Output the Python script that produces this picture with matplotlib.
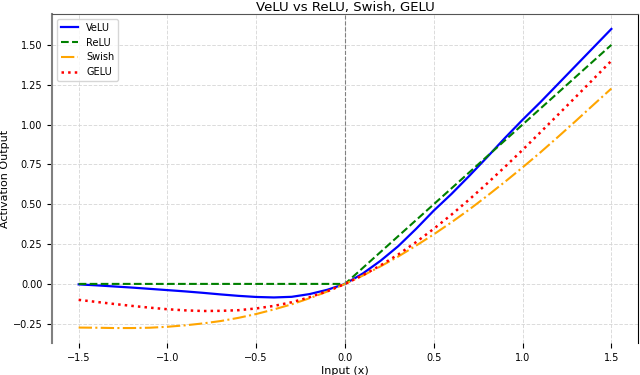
import matplotlib
matplotlib.use('Agg')
import matplotlib.pyplot as plt

# values
x_vals = [-1.5, -1.4, -1.3, -1.2, -1.1, -1.0, -0.9, -0.8, -0.7, -0.6, -0.5,
          -0.4, -0.3, -0.2, -0.1, 0.0, 0.1, 0.2, 0.3, 0.4, 0.5,
          0.6, 0.7, 0.8, 0.9, 1.0, 1.1, 1.2, 1.3, 1.4, 1.5]

velu = [-0.003, -0.009, -0.016, -0.023, -0.031, -0.039, -0.047, -0.056, -0.066, -0.075, -0.082,
        -0.085, -0.081, -0.064, -0.037, 0.0, 0.065, 0.145, 0.237, 0.345, 0.46,
        0.565, 0.678, 0.795, 0.915, 1.03, 1.14, 1.255, 1.37, 1.485, 1.60]

relu = [0.0, 0.0, 0.0, 0.0, 0.0, 0.0, 0.0, 0.0, 0.0, 0.0, 0.0,
        0.0, 0.0, 0.0, 0.0, 0.0, 0.1, 0.2, 0.3, 0.4, 0.5,
        0.6, 0.7, 0.8, 0.9, 1.0, 1.1, 1.2, 1.3, 1.4, 1.5]

swish = [-0.274, -0.275, -0.277, -0.277, -0.275, -0.269, -0.260, -0.248, -0.233, -0.213, -0.189,
         -0.160, -0.128, -0.090, -0.048, 0.0, 0.052, 0.110, 0.172, 0.240, 0.311,
         0.387, 0.467, 0.552, 0.640, 0.731, 0.825, 0.923, 1.023, 1.125, 1.226]

gelu = [-0.100, -0.113, -0.126, -0.138, -0.149, -0.159, -0.166, -0.170, -0.169, -0.165, -0.154,
        -0.138, -0.115, -0.084, -0.046, 0.0, 0.054, 0.116, 0.185, 0.262, 0.346,
        0.435, 0.530, 0.630, 0.734, 0.841, 0.951, 1.062, 1.174, 1.287, 1.400]

fig = plt.figure(figsize=(6.4, 3.75), dpi=100)
ax = fig.add_axes([52/640, 32/375, 586/640, 329/375])

ax.plot(x_vals, velu, label='VeLU', color='blue', linewidth=1.6)
ax.plot(x_vals, relu, label='ReLU', color='green', linestyle='--', linewidth=1.5)
ax.plot(x_vals, swish, label='Swish', color='orange', linestyle='-.', linewidth=1.5)
ax.plot(x_vals, gelu, label='GELU', color='red', linestyle=':', linewidth=1.8)

ax.axvline(0, color='gray', linestyle='--', linewidth=0.8)

# title sits just above the frame, close to the top edge like the original
ax.set_title('VeLU vs ReLU, Swish, GELU', fontsize=9.5, pad=1.5)
ax.set_xlabel('Input (x)', fontsize=8, labelpad=2)
ax.set_ylabel('Activation Output', fontsize=8, labelpad=2)
ax.tick_params(labelsize=7)
ax.set_xticks([-1.5, -1.0, -0.5, 0.0, 0.5, 1.0, 1.5])
ax.set_yticks([-0.25, 0.0, 0.25, 0.5, 0.75, 1.0, 1.25, 1.5])
ax.grid(True, linestyle='--', color='lightgray', alpha=0.8, linewidth=0.7)

ax.spines['bottom'].set_visible(False)
ax.spines['left'].set_color('gray')
ax.spines['left'].set_linewidth(1.5)
ax.spines['top'].set_color('#555555')

ax.legend(loc='upper left', fontsize=7, handlelength=1.8)

fig.savefig('out.png', dpi=100)
